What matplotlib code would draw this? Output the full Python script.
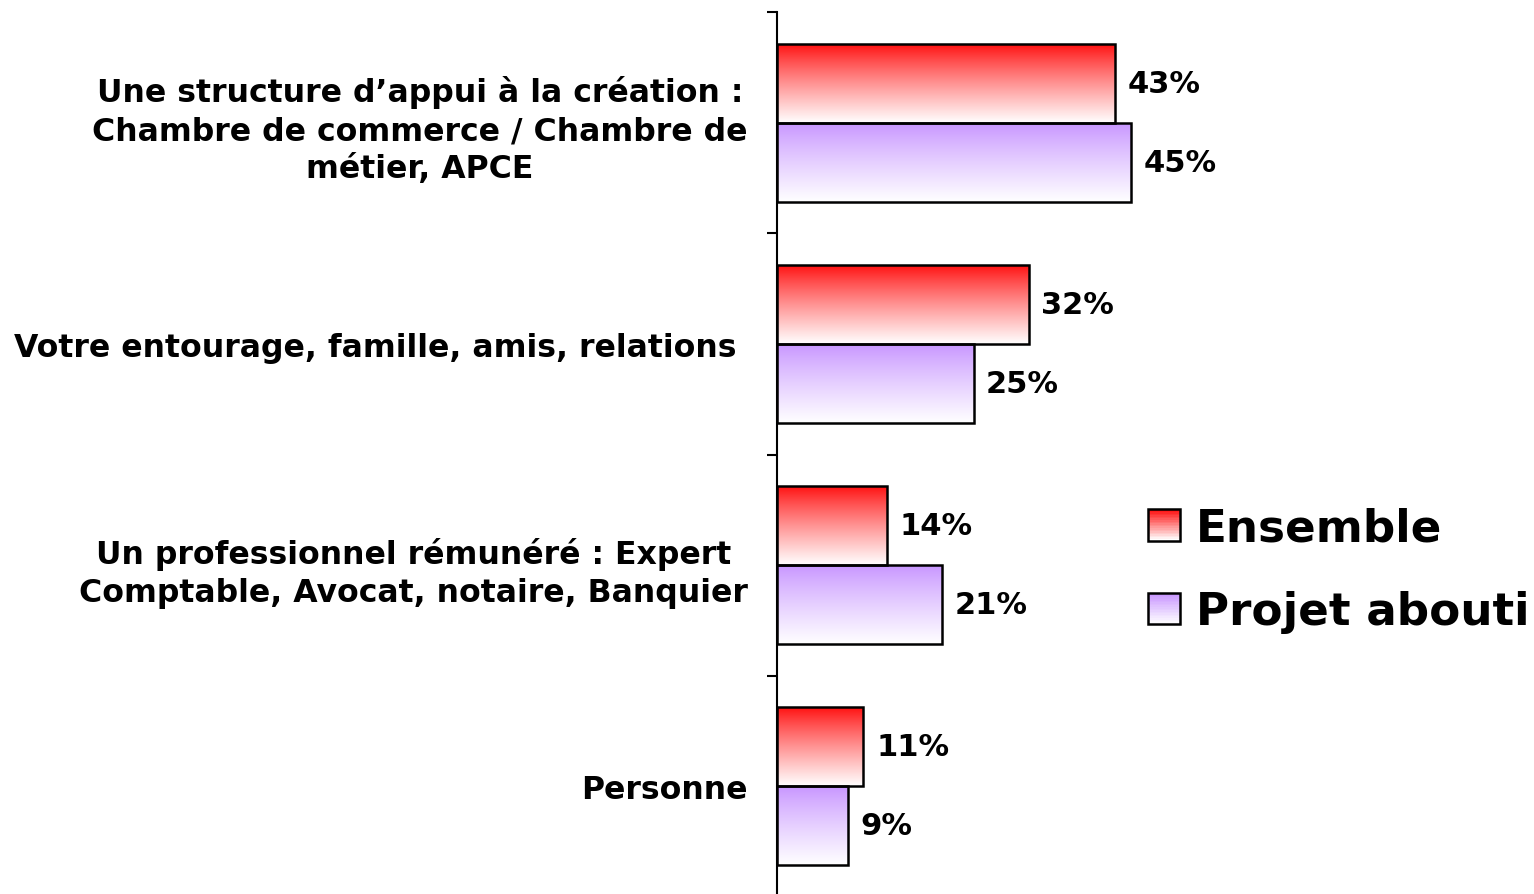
import numpy as np
import matplotlib
matplotlib.use("Agg")
import matplotlib.pyplot as plt
from matplotlib.patches import Rectangle
from matplotlib.legend_handler import HandlerBase

categories = [
    "Une structure d\u2019appui à la création :\nChambre de commerce / Chambre de\nmétier, APCE",
    "Votre entourage, famille, amis, relations ",
    "Un professionnel rémunéré : Expert\nComptable, Avocat, notaire, Banquier",
    "Personne",
]
series_names = ["Ensemble", "Projet abouti"]
ensemble = [43, 32, 14, 11]
projet_abouti = [45, 25, 21, 9]
value_labels_ens = ["43%", "32%", "14%", "11%"]
value_labels_proj = ["45%", "25%", "21%", "9%"]

top_colors = [(1.0, 0.05, 0.05), (0.78, 0.58, 1.0)]

plt.rcParams['font.family'] = ['DejaVu Sans']

W, H = 1534, 895
fig = plt.figure(figsize=(W / 100, H / 100), dpi=100)
px_per_pct = 7.86
ax_left = 777
ax_w = 50 * px_per_pct
ax_top = 13
ax_bot = 898
ax = fig.add_axes([ax_left / W, (H - ax_bot) / H, ax_w / W, (ax_bot - ax_top) / H])

n = len(categories)
y = np.arange(n)
h = 0.357


def gradient(color, nrows=256):
    t = np.linspace(0, 1, nrows)[:, None] ** 0.85
    c = np.array(color)[None, :]
    rgb = c * (1 - t) + np.ones((1, 3)) * t
    return rgb[:, None, :]


for si, (vals, labels) in enumerate([(ensemble, value_labels_ens), (projet_abouti, value_labels_proj)]):
    offs = -h / 2 if si == 0 else h / 2
    centers = y + offs
    ax.barh(centers, vals, height=h, facecolor='none', edgecolor='black',
            linewidth=1.8, zorder=3)
    img = gradient(top_colors[si])
    for c, v in zip(centers, vals):
        ax.imshow(img, extent=(0, v, c + h / 2, c - h / 2), origin='upper',
                  aspect='auto', zorder=2, interpolation='bilinear')
    for c, v, lab in zip(centers, vals, labels):
        ax.text(v + 1.6, c, lab, va='center', ha='left', fontsize=22,
                fontweight='bold', color='black')

ax.set_xlim(0, 50)
ax.set_ylim(n - 0.5, -0.5)

for s in ['top', 'right', 'bottom']:
    ax.spines[s].set_visible(False)
ax.spines['left'].set_linewidth(1.5)
ax.xaxis.set_visible(False)

ax.set_yticks(np.arange(-0.5, n, 1.0))
ax.set_yticklabels([])
ax.tick_params(axis='y', which='major', direction='out', length=7, width=1.5)
ax.set_yticks(y, minor=True)
ax.set_yticklabels(categories, minor=True, fontsize=22.7, fontweight='bold',
                   multialignment='center', linespacing=1.3)
ax.tick_params(axis='y', which='minor', length=0, pad=21)


class GradientHandler(HandlerBase):
    def __init__(self, color):
        super().__init__()
        self.color = color

    def create_artists(self, legend, orig_handle, xdescent, ydescent, width,
                       height, fontsize, trans):
        arts = []
        nstripes = 20
        size = height
        x0 = -xdescent + (width - size) / 2
        y0 = -ydescent + (height - size) / 2
        for k in range(nstripes):
            t = k / (nstripes - 1)
            col = tuple(np.array(self.color) * (1 - t) + t)
            arts.append(Rectangle((x0, y0 + size - (k + 1) * size / nstripes), size,
                                  size / nstripes, facecolor=col, edgecolor='none',
                                  transform=trans))
        arts.append(Rectangle((x0, y0), size, size, facecolor='none',
                              edgecolor='black', linewidth=1.8, transform=trans))
        return arts


h1 = Rectangle((0, 0), 1, 1)
h2 = Rectangle((0, 0), 1, 1)
leg = fig.legend([h1, h2], series_names,
                 handler_map={h1: GradientHandler(top_colors[0]), h2: GradientHandler(top_colors[1])},
                 loc='center left', bbox_to_anchor=(1148 / W, 1 - 571 / H),
                 frameon=False, prop={'size': 32.6, 'weight': 'bold'},
                 handlelength=0.7, handleheight=0.7, handletextpad=0.35,
                 labelspacing=0.9, borderaxespad=0, borderpad=0)

fig.savefig("out.png", dpi=100)
